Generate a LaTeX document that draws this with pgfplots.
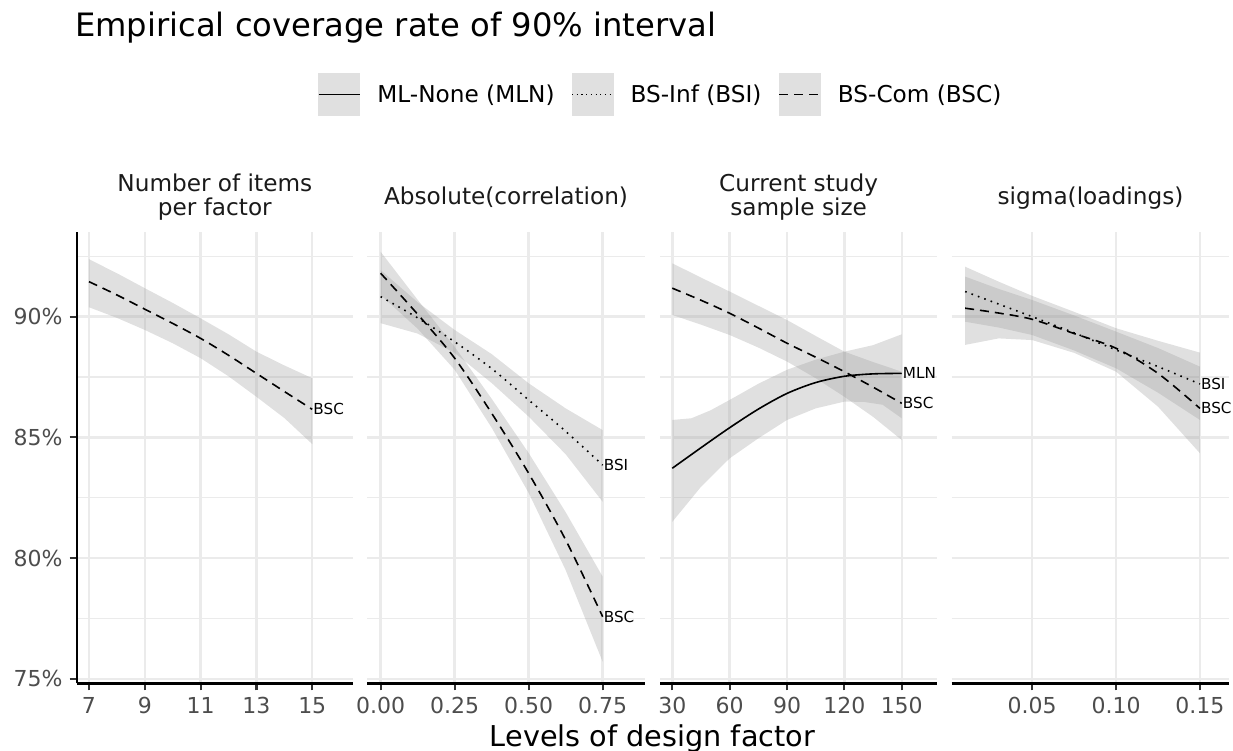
\documentclass[border=0pt]{standalone}
\usepackage{fontspec}
\setmainfont{DejaVu Sans}
\usepackage{pgfplots}
\pgfplotsset{compat=1.18}
\definecolor{gridc}{RGB}{235,235,235}
\definecolor{ticklab}{RGB}{77,77,77}
\definecolor{tickc}{RGB}{51,51,51}
\definecolor{bandc}{RGB}{153,153,153}
\definecolor{keyfill}{RGB}{224,224,224}
\definecolor{stripc}{RGB}{26,26,26}
\newcommand\ticksize{\fontsize{22}{26}\selectfont}
\newcommand\legsize{\fontsize{23.2}{28}\selectfont}
\newcommand\stripsize{\fontsize{23.2}{28}\selectfont}
\newcommand\labsize{\fontsize{15.2}{18}\selectfont}
\tikzset{endlab/.style={anchor=west, inner sep=1pt, font=\labsize, text=black}}
\pgfplotsset{
  panel/.style={
    scale only axis, height=451.6pt, anchor=north west,
    ymin=74.81, ymax=93.52,
    ytick={75,80,85,90}, minor ytick={77.5,82.5,87.5,92.5},
    ymajorgrids, yminorgrids, xmajorgrids,
    major grid style={gridc, line width=2.4pt},
    minor grid style={gridc, line width=1.2pt},
    axis x line*=bottom, axis y line*=left,
    axis line style={black, line width=2.4pt, -},
    tick align=outside, major tick length=7pt, minor tick length=0pt,
    tick style={tickc, line width=2.2pt},
    xticklabel style={font=\ticksize, text=ticklab, inner sep=0pt, yshift=-7pt},
    yticklabel style={font=\ticksize, text=ticklab, inner sep=0pt, xshift=-7pt},
    clip=false,
  },
  noy/.style={y axis line style={draw=none}, ytick style={draw=none}, yticklabels={}},
  band/.style={fill=bandc, fill opacity=0.3, draw=none, forget plot},
  bsc/.style={black, line width=1.6pt, dash pattern=on 9pt off 6pt, smooth, tension=0.5, forget plot},
  bsi/.style={black, line width=1.6pt, dash pattern=on 1.6pt off 5.2pt, smooth, tension=0.5, forget plot},
  mln/.style={black, line width=1.6pt, smooth, tension=0.5, forget plot},
}
\begin{document}
\begin{tikzpicture}[x=1pt,y=1pt]
\useasboundingbox (0,0) rectangle (1233,-751);

% Panel 1
\begin{axis}[panel, at={(76.7pt,-231.7pt)}, width=276.3pt,
  xmin=6.56, xmax=16.46, xtick={7,9,11,13,15}, xticklabels={7,9,11,13,15},
  yticklabels={75\%,80\%,85\%,90\%},
  legend columns=3,
  legend image code/.code={\fill[keyfill, draw=none, solid] (0pt,-21.2pt) rectangle (42.4pt,21.2pt); \draw[#1] (0.5pt,0pt) -- (41.9pt,0pt);},
  legend style={at={(0.8726,1.3038)}, anchor=west, draw=none, fill=none, inner sep=0pt, outer sep=0pt,
    font=\legsize, nodes={inner sep=0pt},
    /tikz/every odd column/.append style={column sep=16.6pt},
    /tikz/every even column/.append style={column sep=16.8pt}},
  legend cell align=left,
]
\addplot[band] coordinates {(7,92.38)(8,91.8)(9,91.18)(10,90.57)(11,89.93)(12,89.27)(13,88.55)(14,87.98)(15,87.45)
  (15,84.72)(14,85.8)(13,86.68)(12,87.53)(11,88.28)(10,88.9)(9,89.45)(8,89.95)(7,90.39)};
\addplot[bsc] coordinates {(7,91.45)(8,90.9)(9,90.31)(10,89.72)(11,89.1)(12,88.4)(13,87.65)(14,86.9)(15,86.16)};
\node[endlab] at (axis cs:15,86.16) {BSC};
\addlegendimage{black, line width=1.6pt}
\addlegendentry{ML-None (MLN)}
\addlegendimage{black, line width=1.2pt, dash pattern=on 1.2pt off 3.5pt}
\addlegendentry{BS-Inf (BSI)}
\addlegendimage{black, line width=1.6pt, dash pattern=on 9pt off 6pt}
\addlegendentry{BS-Com (BSC)}
\end{axis}

% Panel 2
\begin{axis}[panel, noy, at={(367pt,-231.7pt)}, width=278pt,
  xmin=-0.046, xmax=0.893, xtick={0,0.25,0.5,0.75}, xticklabels={0.00,0.25,0.50,0.75}]
\addplot[band] coordinates {(0,92.69)(0.125,90.7)(0.25,88.75)(0.375,86.6)(0.5,84.35)(0.625,81.9)(0.75,79.23)
  (0.75,75.7)(0.625,79.5)(0.5,82.7)(0.375,85.4)(0.25,87.8)(0.125,89.5)(0,90.9)};
\addplot[band] coordinates {(0,91.93)(0.125,90.6)(0.25,89.45)(0.375,88.45)(0.5,87.24)(0.625,86.2)(0.75,85.3)
  (0.75,82.33)(0.625,84.3)(0.5,85.86)(0.375,87.25)(0.25,88.5)(0.125,89.3)(0,89.73)};
\addplot[bsi] coordinates {(0,90.83)(0.125,89.95)(0.25,88.96)(0.375,87.85)(0.5,86.55)(0.625,85.25)(0.75,83.85)};
\addplot[bsc] coordinates {(0,91.8)(0.125,90.1)(0.25,88.28)(0.375,86.0)(0.5,83.51)(0.625,80.75)(0.75,77.57)};
\node[endlab] at (axis cs:0.75,83.85) {BSI};
\node[endlab] at (axis cs:0.75,77.57) {BSC};
\end{axis}

% Panel 3
\begin{axis}[panel, noy, at={(660pt,-231.7pt)}, width=277.3pt,
  xmin=23.57, xmax=168.6, xtick={30,60,90,120,150}, xticklabels={30,60,90,120,150}]
\addplot[band] coordinates {(30,92.21)(45,91.62)(60,91.04)(75,90.45)(90,89.86)(105,89.2)(120,88.55)(135,88.12)(150,87.72)
  (150,84.89)(135,85.85)(120,86.68)(105,87.45)(90,88.14)(75,88.72)(60,89.24)(45,89.67)(30,90.07)};
\addplot[band] coordinates {(30,85.72)(40,85.79)(50,86.12)(60,86.55)(75,87.22)(90,87.8)(105,88.22)(120,88.55)(135,88.82)(150,89.27)
  (150,85.79)(140,86.35)(130,86.47)(120,86.48)(105,86.2)(90,85.72)(75,84.96)(60,84.13)(45,82.95)(30,81.5)};
\addplot[bsc] coordinates {(30,91.18)(45,90.68)(60,90.14)(75,89.53)(90,88.9)(105,88.32)(120,87.72)(135,87.08)(150,86.41)};
\addplot[mln] coordinates {(30,83.72)(45,84.57)(60,85.4)(75,86.17)(90,86.82)(105,87.27)(120,87.53)(135,87.63)(150,87.65)};
\node[endlab] at (axis cs:150,87.65) {MLN};
\node[endlab] at (axis cs:150,86.41) {BSC};
\end{axis}

% Panel 4
\begin{axis}[panel, noy, at={(951.7pt,-231.7pt)}, width=277.6pt,
  xmin=0.002, xmax=0.1675, xtick={0.05,0.10,0.15}, xticklabels={0.05,0.10,0.15}]
\addplot[band] coordinates {(0.01,91.66)(0.03,91.15)(0.05,90.69)(0.075,90.05)(0.10,89.38)(0.125,88.7)(0.15,87.93)
  (0.15,84.34)(0.125,86.27)(0.10,87.72)(0.075,88.5)(0.05,89.03)(0.03,89.1)(0.01,88.83)};
\addplot[band] coordinates {(0.01,92.07)(0.03,91.45)(0.05,90.86)(0.075,90.2)(0.10,89.52)(0.125,89.0)(0.15,88.51)
  (0.15,85.72)(0.125,86.85)(0.10,87.86)(0.075,88.6)(0.05,89.24)(0.03,89.55)(0.01,89.79)};
\addplot[bsi] coordinates {(0.01,91.04)(0.03,90.52)(0.05,90.0)(0.075,89.33)(0.10,88.62)(0.125,87.93)(0.15,87.21)};
\addplot[bsc] coordinates {(0.01,90.35)(0.03,90.15)(0.05,89.89)(0.075,89.3)(0.10,88.69)(0.125,87.65)(0.15,86.2)};
\node[endlab] at (axis cs:0.15,87.21) {BSI};
\node[endlab] at (axis cs:0.15,86.2) {BSC};
\end{axis}

% Titles
\node[anchor=base west, inner sep=0pt, font=\fontsize{32.2}{38}\selectfont] at (75,-37) {Empirical coverage rate of 90\% interval};
\node[anchor=base, inner sep=0pt, font=\fontsize{28.7}{34}\selectfont] at (652.5,-746) {Levels of design factor};
% Strip labels
\node[anchor=base, inner sep=0pt, font=\stripsize, text=stripc] at (214.85,-192) {Number of items};
\node[anchor=base, inner sep=0pt, font=\stripsize, text=stripc] at (214.85,-216) {per factor};
\node[anchor=base, inner sep=0pt, font=\stripsize, text=stripc] at (506,-205) {Absolute(correlation)};
\node[anchor=base, inner sep=0pt, font=\stripsize, text=stripc] at (798.65,-192) {Current study};
\node[anchor=base, inner sep=0pt, font=\stripsize, text=stripc] at (798.65,-216) {sample size};
\node[anchor=base, inner sep=0pt, font=\stripsize, text=stripc] at (1090.5,-205) {sigma(loadings)};
\end{tikzpicture}
\end{document}
